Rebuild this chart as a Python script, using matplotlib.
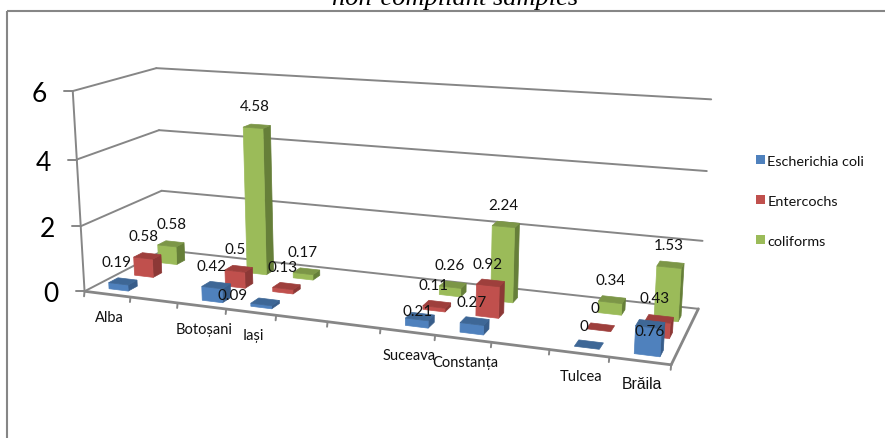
import numpy as np
import matplotlib
matplotlib.use("Agg")
import matplotlib.pyplot as plt
from matplotlib.patches import Polygon, Rectangle

categories = ["Alba", "Botoșani", "Iași", "Suceava", "Constanța", "Tulcea", "Brăila"]
category_slots = [0, 2, 3, 6, 7, 9, 10]
n_slots = 11
series_names = ["Escherichia coli", "Entercochs", "coliforms"]
e_coli = [0.19, 0.42, 0.09, 0.21, 0.27, 0, 0.76]
entercochs = [0.58, 0.5, 0.13, 0.11, 0.92, 0, 0.43]
coliforms = [0.58, 4.58, 0.17, 0.26, 2.24, 0.34, 1.53]
y_ticks = [0, 2, 4, 6]

faces = ["#4F81BD", "#C0504D", "#9BBB59"]
sides = ["#385D8A", "#8C3836", "#667F39"]
tops = ["#3E6796", "#9E3F3C", "#7C9647"]
GRAY = "#868686"

# hand-placed data labels in the original: (series, category) -> pixel nudge
label_nudge = {(2, 0): (5, 0), (0, 2): (-29, 12), (0, 3): (1, 14), (0, 5): (-3, 0), (1, 5): (-4, 0),
               (0, 6): (1, 26), (1, 6): (-3, -2), (0, 0): (-2, 0), (2, 1): (2, 0)}

# camera calibration: (slot, depth, value) -> pixel
calib = [
    (0, 0, 0, 85, 292), (11, 0, 0, 671, 367), (0, 1, 0, 165, 252), (11, 1, 0, 698, 309),
    (0, 0, 2, 80, 226), (0, 0, 4, 77, 161), (0, 0, 6, 73, 92),
    (0, 1, 2, 161, 192), (0, 1, 4, 158, 131), (0, 1, 6, 157, 69),
    (11, 1, 2, 703, 241), (11, 1, 4, 707, 172), (11, 1, 6, 711, 101),
]
A = []
for u, v, z, x, y in calib:
    A.append([u, v, z, 1, 0, 0, 0, 0, -x/100*u, -x/100*v, -x/100*z, -x/100])
    A.append([0, 0, 0, 0, u, v, z, 1, -y/100*u, -y/100*v, -y/100*z, -y/100])
P = np.linalg.svd(np.array(A, float))[2][-1].reshape(3, 4)


def proj(u, v, z):
    h = P @ np.array([u, v, z, 1.0])
    return h[0] / h[2] * 100, h[1] / h[2] * 100


fig = plt.figure(figsize=(8.85, 4.39), dpi=100)
ax = fig.add_axes([0, 0, 1, 1])
ax.set_xlim(0, 885)
ax.set_ylim(439, 0)
ax.axis("off")

ax.add_patch(Rectangle((7, 12), 900, 450, fill=False, ec=GRAY, lw=1.5))
ax.text(455, 5, "non-compliant samples", family="Liberation Serif", style="italic",
        fontsize=19, ha="center", va="baseline", color="black")


def line(a, b, lw=1.4):
    ax.plot([a[0], b[0]], [a[1], b[1]], color=GRAY, lw=lw, solid_capstyle="round", zorder=1)


for t in y_ticks:
    fl, bl, br = proj(0, 0, t), proj(0, 1, t), proj(n_slots, 1, t)
    line(fl, bl)
    line(bl, br)
    line((fl[0] - 9, fl[1]), fl)
    ax.text(fl[0] - 26, fl[1] + 2.5, str(t), family="Lato", fontsize=19, ha="right", va="center")
line(proj(0, 0, 0), proj(0, 0, 6))
line(proj(0, 0, 0), proj(n_slots, 0, 0), 2)
line(proj(n_slots, 0, 0), proj(n_slots, 1, 0), 2)
for s in range(n_slots + 1):
    a = proj(s, 0, 0)
    line(a, (a[0] - 0.5, a[1] + 5))

BAR_W = 0.42
BAR_C = 0.56
ROW_V = [0.10, 0.41, 0.72]
ROW_D = 0.11
all_vals = [e_coli, entercochs, coliforms]
z = 2
for s in (2, 1, 0):
    for i, slot in enumerate(category_slots):
        val = all_vals[s][i]
        u0, u1 = slot + BAR_C - BAR_W / 2, slot + BAR_C + BAR_W / 2
        v0, v1 = ROW_V[s], ROW_V[s] + ROW_D
        if val > 0:
            ax.add_patch(Polygon([proj(u1, v0, 0), proj(u1, v1, 0), proj(u1, v1, val), proj(u1, v0, val)],
                                 fc=sides[s], ec=sides[s], lw=0.5, zorder=z))
            ax.add_patch(Polygon([proj(u0, v0, 0), proj(u1, v0, 0), proj(u1, v0, val), proj(u0, v0, val)],
                                 fc=faces[s], ec=faces[s], lw=0.5, zorder=z))
        ax.add_patch(Polygon([proj(u0, v0, val), proj(u1, v0, val), proj(u1, v1, val), proj(u0, v1, val)],
                             fc=tops[s], ec=tops[s], lw=0.5, zorder=z))
        z += 1
        lx, ly = proj(slot + BAR_C, v0, val)
        dx, dy = label_nudge.get((s, i), (0, 0))
        ax.text(lx + dx, ly - 22 + dy, f"{val:g}", family="Lato", fontsize=10.9, ha="center", va="center",
                color="#111111", zorder=100)

for i, slot in enumerate(category_slots):
    lx, ly = proj(slot + 0.5, 0, 0)
    fam, fs = ("Liberation Sans", 11.3) if categories[i] == "Brăila" else ("Lato", 10.5)
    ax.text(lx + 2, ly + 23, categories[i], family=fam, fontsize=fs, ha="center", va="center", color="#111111")

handles = [Rectangle((0, 0), 1, 1, fc=c, ec="none") for c in faces]
ax.legend(handles, series_names, loc="upper left", bbox_to_anchor=(744 / 885, 1 - 144 / 439),
          frameon=False, prop={"family": "Lato", "size": 10.4}, handlelength=0.62, handleheight=0.62,
          handletextpad=0.2, labelspacing=1.95, borderpad=0.3, labelcolor="#111111")

fig.savefig("out.png", dpi=100)
